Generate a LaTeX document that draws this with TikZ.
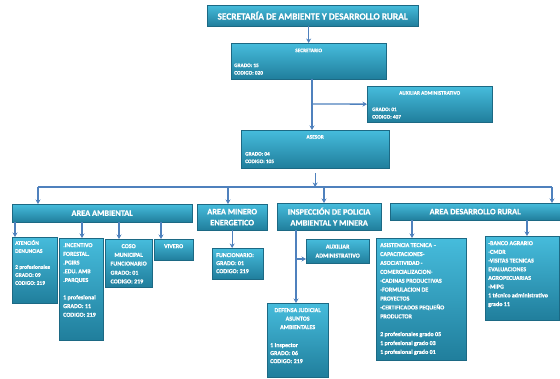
\documentclass[tikz,border=0pt]{standalone}
\usepackage{fontspec}
\setmainfont{Carlito}[BoldFeatures={FakeBold=0.8}]
\usetikzlibrary{arrows.meta,shadows,positioning}

\definecolor{boxtop}{RGB}{70,188,220}
\definecolor{boxbot}{RGB}{32,126,156}
\definecolor{boxline}{RGB}{28,105,132}
\definecolor{linkblue}{RGB}{79,129,189}

\tikzset{
  box/.style={rectangle, anchor=north west, inner sep=0pt,
    top color=boxtop, bottom color=boxbot, draw=boxline, line width=0.3pt,
    drop shadow={shadow xshift=1.3pt, shadow yshift=-1.3pt, opacity=0.45},
    text=white, font=\bfseries\fontsize{6}{9}\selectfont, align=center},
  area/.style={box, font=\bfseries\fontsize{8.3}{11}\selectfont},
  txt/.style={inner sep=0pt, text=white, align=left,
    font=\bfseries\fontsize{6}{8.7}\selectfont},
  small/.style={txt, font=\bfseries\fontsize{5.3}{7.5}\selectfont},
  link/.style={draw=linkblue, line width=1.3pt},
  arr/.style={link, -{Stealth[length=4.5pt,width=5pt]}},
}

\begin{document}
\begin{tikzpicture}[x=1pt,y=-1pt]
\useasboundingbox (0,0) rectangle (560,379);

% secretaria, secretario, auxiliar, asesor
\node[box, minimum width=211pt, minimum height=21pt,
  font=\bfseries\fontsize{9.3}{11}\selectfont] (tit) at (207,5)
  {SECRETARÍA DE AMBIENTE Y DESARROLLO RURAL};
\node[box, minimum width=155pt, minimum height=36pt] (secr) at (231,43) {};
\node[small, below=5.5pt of secr.north] (secrH) {SECRETARIO};
\node[small, above right=4.5pt and 3pt of secr.south west] (secrD) {GRADO: 15\\CODIGO: 020};

\node[box, minimum width=125pt, minimum height=36pt] (aux1) at (367,86) {};
\node[small, below=5pt of aux1.north] (aux1H) {AUXILIAR ADMINISTRATIVO};
\node[small, above right=3.5pt and 5pt of aux1.south west] (aux1D) {GRADO: 01\\CODIGO: 407};

\node[box, minimum width=148pt, minimum height=38pt] (ases) at (241,130) {};
\node[small, below=5pt of ases.north] (asesH) {ASESOR};
\node[small, above right=5pt and 4pt of ases.south west] (asesD) {GRADO: 04\\CODIGO: 105};

% areas
\node[area, minimum width=180pt, minimum height=18pt] (amb) at (12,204) {AREA AMBIENTAL};
\node[area, minimum width=70pt, minimum height=26pt] (min) at (197,204) {AREA MINERO\\ENERGETICO};
\node[area, minimum width=104pt, minimum height=27pt] (insp) at (277,203) {INSPECCIÓN DE POLICIA\\AMBIENTAL Y MINERA};
\node[area, minimum width=170pt, minimum height=17pt] (rur) at (390,203) {AREA DESARROLLO RURAL};

% area ambiental
\node[box, minimum width=45pt, minimum height=66pt] (aten) at (12,237) {};
\node[txt, font=\bfseries\fontsize{5.5}{8}\selectfont, below right=3pt and 3pt of aten.north west] (atenT)
  {ATENCIÓN\\DENUNCIAS\\[8pt]2 profesionales\\GRADO: 09\\CODIGO: 219};
\node[box, minimum width=44pt, minimum height=102pt] (ince) at (59,238) {};
\node[txt, below right=5pt and 4pt of ince.north west] (inceT)
  {.INCENTIVO\\FORESTAL.\\.PGIRS\\.EDU. AMB\\.PARQUES\\[8.7pt]1 profesional\\GRADO: 11\\CODIGO: 219};
\node[box, minimum width=47pt, minimum height=48pt] (coso) at (105,239) {};
\node[txt, align=center, below=5pt of coso.north] (cosoT)
  {COSO\\MUNICIPAL\\FUNCIONARIO};
\node[txt, below right=4.8pt and 0pt of cosoT.south west] (cosoD)
  {GRADO: 01\\CODIGO: 219};
\node[box, minimum width=39pt, minimum height=21pt] (viv) at (154,239) {};
\node[txt, below=5pt of viv.north] (vivT) {VIVERO};

% area minero energetico
\node[box, minimum width=51pt, minimum height=31pt] (func) at (212,248) {};
\node[txt, font=\bfseries\fontsize{6}{8}\selectfont, below right=5pt and 4pt of func.north west] (funcT)
  {FUNCIONARIO:\\GRADO: 01\\CODIGO: 219};

% inspeccion
\node[box, minimum width=63pt, minimum height=24pt] (aux2) at (306,239) {AUXILIAR\\ADMINISTRATIVO};
\node[box, minimum width=61pt, minimum height=74pt] (def) at (267,303) {};
\node[txt, align=center, font=\bfseries\fontsize{6}{8.5}\selectfont, below=5pt of def.north] (defH)
  {DEFENSA JUDICIAL\\ASUNTOS\\AMBIENTALES};
\node[txt, font=\bfseries\fontsize{6}{8}\selectfont, below right=40pt and 3pt of def.north west] (defD)
  {1 Inspector\\GRADO: 06\\CODIGO: 219};

% desarrollo rural
\node[box, minimum width=90pt, minimum height=122pt] (asis) at (376,238) {};
\node[txt, font=\bfseries\fontsize{6}{8.9}\selectfont, below right=5pt and 4pt of asis.north west] (asisT)
  {ASISTENCIA TECNICA –\\CAPACITACIONES-\\ASOCIATIVIDAD -\\COMERCIALIZACION-\\-CADINAS PRODUCTIVAS\\-FORMULACION DE\\PROYECTOS\\-CERTIFICADOS PEQUEÑO\\PRODUCTOR\\[8.9pt]2 profesionales grado 05\\1 profesional grado 03\\1 profesional grado 01};
\node[box, minimum width=74pt, minimum height=84pt] (banc) at (485,236) {};
\node[txt, below right=5pt and 3pt of banc.north west] (bancT)
  {-BANCO AGRARIO\\-CMDR\\-VISITAS TECNICAS\\EVALUACIONES\\AGROPECUARIAS\\-MIPG\\1 técnico administrativo\\grado 11};

% conectores
\draw[arr] (secr.north |- tit.south) -- (secr.north);
\coordinate (secrJ) at (312,104);
\draw[arr] (secr.south -| secrJ) -- (ases.north -| secrJ);
\draw[arr] (secrJ) -- (aux1.west);
\coordinate (busL) at (38,187);
\coordinate (busR) at (552,187);
\coordinate[below=5pt of ases.south] (asesB);
\draw[link] (busL) -- (busR);
\draw[arr] (asesB) -- (asesB |- busL);
\draw[arr] (busL) -- (busL |- amb.north);
\draw[arr] (busR) -- (busR |- rur.north);
\draw[arr] (228,0 |- busL) -- (228,0 |- min.north);
\draw[arr] (324,0 |- busL) -- (324,0 |- insp.north);
\foreach \x/\b in {15/aten,82/ince,119/coso,161/viv}
  \draw[arr] (\x,0 |- amb.south) -- (\x,0 |- \b.north);
\draw[arr] (min.south) -- (min.south |- func.north);
\coordinate (inspJ) at (296,259);
\draw[arr] (insp.south -| inspJ) -- (def.north -| inspJ);
\draw[arr] (inspJ) -- (aux2.west |- inspJ);
\foreach \x/\b in {412/asis,527/banc}
  \draw[arr] (\x,0 |- rur.south) -- (\x,0 |- \b.north);
\end{tikzpicture}
\end{document}
